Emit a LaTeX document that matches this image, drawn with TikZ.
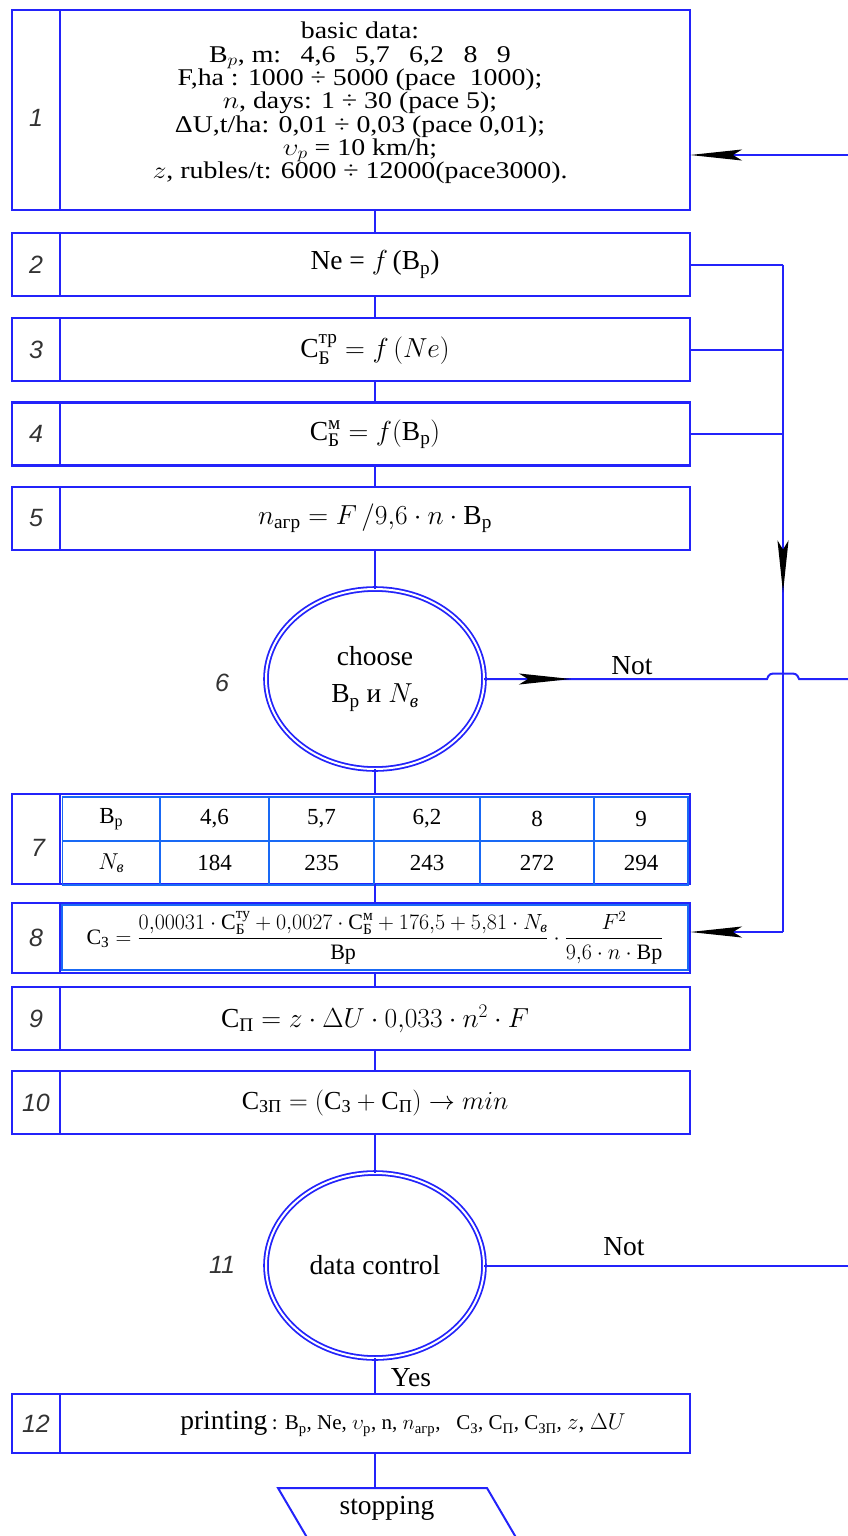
\documentclass[tikz,border=0pt]{standalone}
\usepackage{fix-cm}
\usepackage{amsmath}
\usepackage[no-math]{fontspec}
\setmainfont{Liberation Serif}
\newfontfamily\numfont{Liberation Sans}
\usetikzlibrary{arrows.meta,decorations.markings,shapes.geometric}
\definecolor{bl}{RGB}{35,35,250}
\definecolor{tb}{RGB}{25,105,245}
\setlength{\lineskiplimit}{-40pt}
\newcommand\fsbig{\fontsize{27.5}{30}\selectfont}
\newcommand\fsmid{\fontsize{23}{26}\selectfont}
\newcommand\fsfrm{\fontsize{22}{26}\selectfont}
\newcommand\fssml{\fontsize{21}{24}\selectfont}
\tikzset{
  frame/.style={draw=bl, line width=2.2pt, inner sep=0pt, outer sep=0pt},
  body/.style={frame, minimum width=630pt, font=\fsbig},
  lcell/.style={frame, minimum width=48pt, text=black!80, font=\numfont\itshape\fontsize{25}{27}\selectfont},
  numlbl/.style={inner sep=0pt, text=black!80, font=\numfont\itshape\fontsize{25}{27}\selectfont},
  conn/.style={draw=bl, line width=2pt},
  dring/.style={ellipse, draw=bl, line width=1.8pt, double=white, double distance=2pt,
                inner sep=0pt, outer sep=0pt, align=center, font=\fontsize{27.5}{37}\selectfont},
  tcell/.style={draw=tb, line width=1.3pt, inner sep=0pt, minimum height=44pt, font=\fsmid},
  lbl/.style={inner sep=0pt, font=\fsbig},
  dart/.tip={Stealth[length=52pt,width=11pt,inset=9pt,color=black]},
  midtip/.style={postaction={decorate}, decoration={markings,
      mark=at position #1 with {\arrow{Stealth[length=52pt,width=11pt,inset=9pt,color=black]}}}},
}
\begin{document}
\begin{tikzpicture}[x=1pt,y=1pt]
\useasboundingbox (0,0) rectangle (848,-1536);

% ---- block 1: input data
\node[lcell, minimum height=200pt] (l1) at (36,-110) {};
\node[numlbl] at (36,-118) {1};
\node[body, minimum height=200pt] (b1) at (375,-110) {};
\node[align=center, inner sep=0pt, font=\fontsize{24}{23.3}\selectfont, xscale=1.16, transform shape] (t1) at (360,-103)
 {basic data:\\
  B$_p$, m:\hspace{0.7em}4,6\hspace{0.7em}5,7\hspace{0.7em}6,2\hspace{0.7em}8\hspace{0.7em}9\\
  F,ha : 1000 ÷ 5000 (pace\ \ 1000);\\
  $n$, days: 1 ÷ 30 (pace 5);\\
  ΔU,t/ha: 0,01 ÷ 0,03 (pace 0,01);\\
  $\upsilon_p$ = 10 km/h;\\
  $z$, rubles/t: 6000 ÷ 12000(pace3000).};

% ---- blocks 2-5
\node[lcell, minimum height=63pt] (l2) at (36,-264.5) {2};
\node[body, minimum height=63pt] (b2) at (375,-264.5) {Ne = $f$\,(B$_{\text{р}}$)};
\node[lcell, minimum height=63pt] (l3) at (36,-349.5) {3};
\node[body, minimum height=63pt] (b3) at (375,-349.5) {$\text{С}_{\text{Б}}^{\text{тр}} = f\,(Ne)$};
\node[lcell, minimum height=63pt] (l4) at (36,-434) {4};
\node[body, minimum height=63pt] (b4) at (375,-434) {$\text{С}_{\text{Б}}^{\text{м}} = f(\text{В}_{\text{р}})$};
\node[lcell, minimum height=63pt] (l5) at (36,-518.5) {5};
\node[body, minimum height=63pt] (b5) at (375,-518.5) {$n_{\text{агр}} = F\,/9{,}6\cdot n\cdot \text{В}_{\text{р}}$};

% ---- decision 6
\node[dring, minimum width=218pt, minimum height=180pt] (c6) at (375,-679)
 {choose\\B$_{\text{р}}$ и $N_{\textit{в}}$};
\node[numlbl] at (222,-683) {6};

% ---- block 7: table
\node[lcell, minimum height=90pt] (l7) at (36,-839) {};
\node[numlbl] at (38,-848) {7};
\node[body, minimum height=90pt] (b7) at (375,-839) {};
\node[tcell, minimum width=97.5pt] (r1c1) at (111.25,-819) {B$_{\text{р}}$};
\node[tcell, minimum width=109pt]  (r1c2) at (214.5,-819) {4,6};
\node[tcell, minimum width=105pt]  (r1c3) at (321.5,-819) {5,7};
\node[tcell, minimum width=106pt]  (r1c4) at (427,-819) {6,2};
\node[tcell, minimum width=114pt]  (r1c5) at (537,-819) {8};
\node[tcell, minimum width=94pt]   (r1c6) at (641,-819) {9};
\node[tcell, minimum width=97.5pt] (r2c1) at (111.25,-863) {$N_{\textit{в}}$};
\node[tcell, minimum width=109pt]  (r2c2) at (214.5,-863) {184};
\node[tcell, minimum width=105pt]  (r2c3) at (321.5,-863) {235};
\node[tcell, minimum width=106pt]  (r2c4) at (427,-863) {243};
\node[tcell, minimum width=114pt]  (r2c5) at (537,-863) {272};
\node[tcell, minimum width=94pt]   (r2c6) at (641,-863) {294};

% ---- block 8
\node[lcell, minimum height=70pt] (l8) at (36,-938) {8};
\node[body, minimum height=70pt] (b8) at (375,-938) {};
\node[draw=tb, line width=1.3pt, inner sep=0pt, minimum width=626pt, minimum height=65pt, font=\fsfrm] (f8) at (375,-937.5)
 {$\text{С}_{\text{З}} = \dfrac{0{,}00031\cdot \text{С}_{\text{Б}}^{\text{ту}} + 0{,}0027\cdot \text{С}_{\text{Б}}^{\text{м}} + 176{,}5 + 5{,}81\cdot N_{\textit{в}}}{\text{Вр}}\cdot\dfrac{F^2}{9{,}6\cdot n\cdot \text{Вр}}$};

% ---- blocks 9-10
\node[lcell, minimum height=63pt] (l9) at (36,-1018.5) {9};
\node[body, minimum height=63pt] (b9) at (375,-1018.5) {$\text{С}_{\text{П}} = z\cdot \Delta U\cdot 0{,}033\cdot n^2\cdot F$};
\node[lcell, minimum height=63pt] (l10) at (36,-1102.5) {10};
\node[body, minimum height=63pt, font=\fontsize{26}{30}\selectfont] (b10) at (375,-1102.5) {$\text{С}_{\text{ЗП}} = (\text{С}_{\text{З}} + \text{С}_{\text{П}}) \rightarrow min$};

% ---- decision 11
\node[dring, minimum width=218pt, minimum height=185pt] (c11) at (375,-1265.5) {data control};
\node[numlbl] at (222,-1265) {11};

% ---- block 12
\node[lcell, minimum height=59pt] (l12) at (36,-1423.5) {12};
\node[body, minimum height=59pt] (b12) at (375,-1423.5) {};
\node[lbl] (t12) at (403,-1424)
 {printing\,{\fssml: B$_{\text{р}}$, Ne, $\upsilon_{\text{р}}$, n, $n_{\text{агр}}$,\ \ \ $\text{С}_{\text{З}}$, $\text{С}_{\text{П}}$, $\text{С}_{\text{ЗП}}$, {\fontsize{23}{26}\selectfont$z$, $\Delta U$}}};

% ---- terminal
\coordinate (stoptop) at (375,-1488);
\draw[conn, line join=miter] (312,-1546) -- (278,-1488) -- (487,-1488) -- (521,-1546);
\node[lbl] (stop) at (387,-1508) {stopping};

% ---- main vertical flow
\draw[conn] (b1.south) -- (b2.north);
\draw[conn] (b2.south) -- (b3.north);
\draw[conn] (b3.south) -- (b4.north);
\draw[conn] (b4.south) -- (b5.north);
\draw[conn] (b5.south) -- (c6.north);
\draw[conn] (c6.south) -- (b7.north);
\draw[conn] (b7.south) -- (b8.north);
\draw[conn] (b8.south) -- (b9.north);
\draw[conn] (b9.south) -- (b10.north);
\draw[conn] (b10.south) -- (c11.north);
\draw[conn] (c11.south) -- (b12.north);
\draw[conn] (b12.south) -- (stoptop);
\node[lbl] (yes) at (411,-1378) {Yes};

% ---- feed-in to block 1
\coordinate (in1) at (848,-155);
\draw[conn, -{dart}] (in1) -- (in1 -| b1.east);

% ---- side bus from blocks 2-4 to block 8
\coordinate (bus2) at (783,-264.5);
\coordinate (bus8) at (783,-932);
\draw[conn] (b2.east) -- (bus2);
\draw[conn] (b3.east) -- (b3.east -| bus2);
\draw[conn] (b4.east) -- (b4.east -| bus2);
\draw[conn, midtip=328pt] (bus2) -- (bus8);
\draw[conn, -{dart}] (bus8) -- (bus8 -| b8.east);

% ---- "Not" exits
\coordinate (out6) at (848,-679);
\draw[conn, midtip=87pt] (c6.east) -- (767,-679)
   .. controls (769,-673.5) and (771,-673.5) .. (776,-673.5) -- (790,-673.5)
   .. controls (795,-673.5) and (797,-673.5) .. (799,-679) -- (out6);
\node[lbl] (not6) at (632,-666) {Not};

\coordinate (out11) at (848,-1265.5);
\draw[conn] (c11.east) -- (out11);
\node[lbl] (not11) at (624,-1247) {Not};
\end{tikzpicture}
\end{document}
